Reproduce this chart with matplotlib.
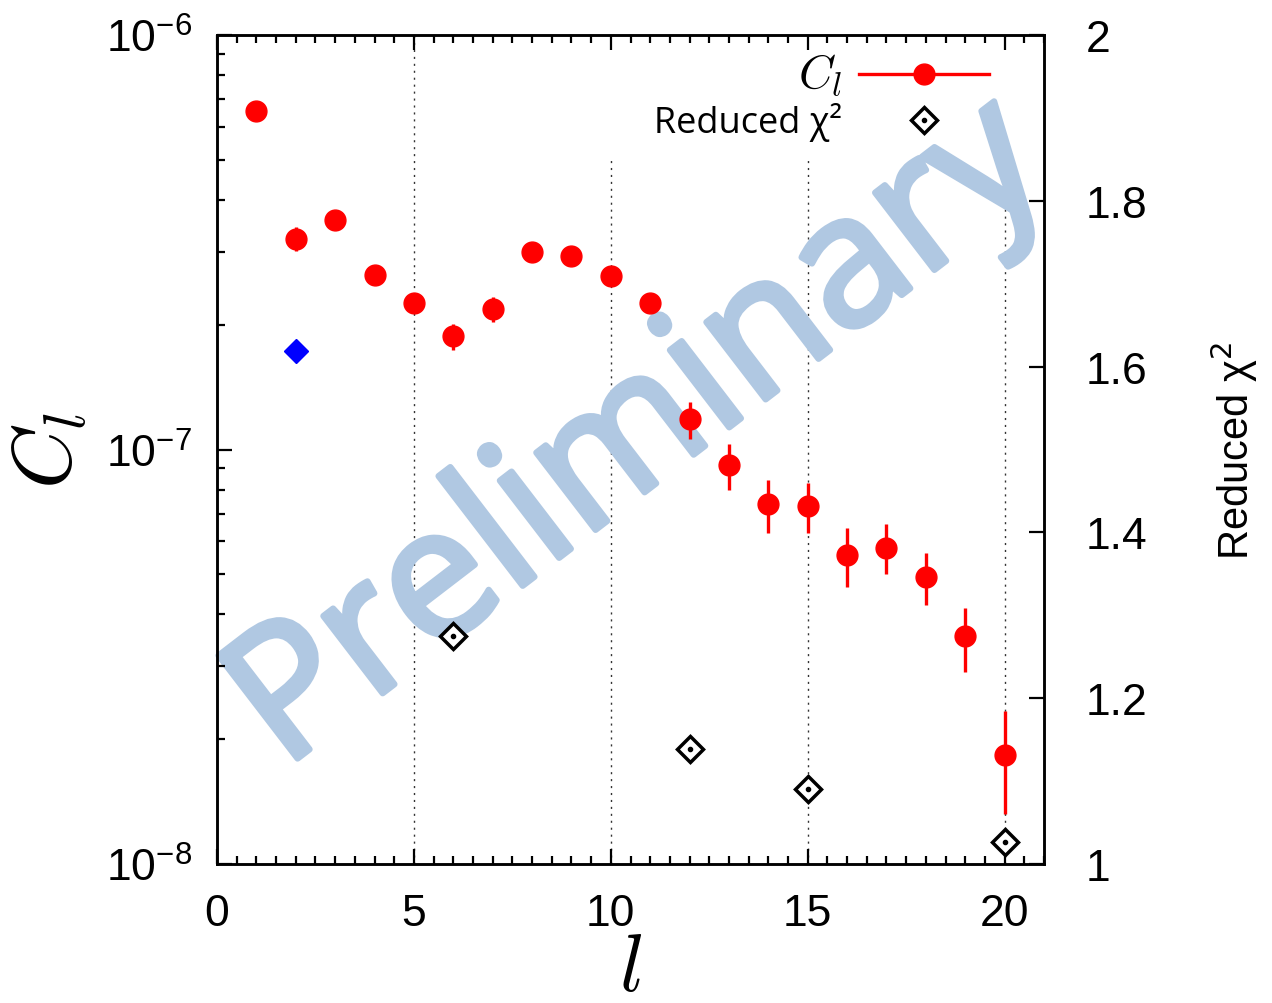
import numpy as np
import matplotlib.pyplot as plt
import matplotlib.patheffects as pe
from matplotlib.lines import Line2D
from matplotlib.ticker import MultipleLocator, LogLocator, NullFormatter, FormatStrFormatter

plt.rcParams['font.family'] = ['Liberation Sans', 'DejaVu Sans']

# C_l power spectrum with asymmetric errors
ell = [1, 2, 3, 4, 5, 6, 7, 8, 9, 10, 11, 12, 13, 14, 15, 16, 17, 18, 19, 20]
cl = [6.56e-7, 3.22e-7, 3.57e-7, 2.64e-7, 2.26e-7, 1.875e-7, 2.18e-7, 3.0e-7, 2.93e-7, 2.62e-7,
      2.26e-7, 1.186e-7, 9.18e-8, 7.37e-8, 7.31e-8, 5.57e-8, 5.80e-8, 4.92e-8, 3.54e-8, 1.83e-8]
cl_lo = [6.45e-7, 3.01e-7, 3.50e-7, 2.57e-7, 2.19e-7, 1.74e-7, 2.03e-7, 2.93e-7, 2.86e-7, 2.55e-7,
         2.19e-7, 1.06e-7, 8.0e-8, 6.29e-8, 6.29e-8, 4.66e-8, 5.0e-8, 4.22e-8, 2.91e-8, 1.32e-8]
cl_hi = [6.67e-7, 3.44e-7, 3.64e-7, 2.71e-7, 2.33e-7, 2.01e-7, 2.33e-7, 3.07e-7, 3.0e-7, 2.69e-7,
         2.33e-7, 1.304e-7, 1.031e-7, 8.44e-8, 8.29e-8, 6.46e-8, 6.6e-8, 5.63e-8, 4.15e-8, 2.34e-8]

# single alternative value at l=2
ell_alt = [2]
cl_alt = [1.73e-7]

# reduced chi^2 (right axis)
chi_ell = [6, 12, 15, 20]
chi2 = [1.275, 1.139, 1.091, 1.026]

cl = np.array(cl)
yerr = [cl - np.array(cl_lo), np.array(cl_hi) - cl]

fig = plt.figure(figsize=(12.72, 10.04), dpi=100)
ax = fig.add_axes([217 / 1272, 139 / 1004, 827 / 1272, 829 / 1004])
ax2 = ax.twinx()

ax.errorbar(ell, cl, yerr=yerr, fmt='o', color='red', ms=15, elinewidth=2.4,
            capsize=0, zorder=3)
ax.plot(ell_alt, cl_alt, ls='none', marker='D', ms=12.5, color='blue', zorder=3)

ax2.plot(chi_ell, chi2, ls='none', marker='D', ms=13.5, mfc='white', mec='black', mew=2.5)
ax2.plot(chi_ell, chi2, ls='none', marker='o', ms=3, color='black')

ax.set_yscale('log')
ax.set_xlim(0, 21)
ax.set_ylim(1e-8, 1e-6)
ax2.set_ylim(1, 2)

for x in [5, 10, 15, 20]:
    ax.axvline(x, color='#333333', lw=1.0, ls=(0, (1.5, 3.5)), zorder=0.5)

ax.xaxis.set_major_locator(MultipleLocator(5))
ax.xaxis.set_minor_locator(MultipleLocator(0.5))
ax.yaxis.set_minor_locator(LogLocator(base=10, subs=np.arange(2, 10)))
ax.yaxis.set_minor_formatter(NullFormatter())
ax2.yaxis.set_major_locator(MultipleLocator(0.2))
ax2.yaxis.set_major_formatter(FormatStrFormatter('%g'))

ax.tick_params(which='both', direction='in', top=True, right=False, width=1.6, labelsize=32)
ax.tick_params(which='major', length=11)
ax.tick_params(which='minor', length=6)
ax.tick_params(axis='x', pad=21)
ax.tick_params(axis='y', pad=18)
ax2.tick_params(direction='in', length=11, width=1.6, labelsize=32, pad=30)

for a in (ax, ax2):
    for s in a.spines.values():
        s.set_linewidth(1.8)

ax.set_xlabel('$l$', fontsize=58, math_fontfamily='cm', labelpad=-2)
ax.set_ylabel('$C_l$', fontsize=60, math_fontfamily='cm', labelpad=12)
ax2.set_ylabel('Reduced χ$^2$', fontsize=30, rotation=90, labelpad=44)

# legend (text before symbol, gnuplot style)
h1 = Line2D([], [], color='red', lw=2.4, marker='o', ms=15)
h2a = Line2D([], [], ls='none', marker='D', ms=13.5, mfc='white', mec='black', mew=2.5)
h2b = Line2D([], [], ls='none', marker='o', ms=3, color='black')
leg = ax.legend([h1, (h2a, h2b)], ['$C_l$', '     Reduced χ²'], loc='upper right',
                bbox_to_anchor=(0.977, 1.025), markerfirst=False, frameon=True,
                framealpha=1, facecolor='white', edgecolor='none', handlelength=3.6,
                handletextpad=0.45, labelspacing=0.12, borderpad=0.5,
                prop={'family': 'Open Sans', 'size': 26})
leg.get_texts()[0].set_math_fontfamily('cm')
leg.get_texts()[0].set_fontsize(34)
leg.set_zorder(0.8)

wm_color = '#B0C8E2'
ax.text(0.511, 0.516, 'Preliminary', transform=ax.transAxes, rotation=37.5,
        rotation_mode='anchor', ha='center', va='center', fontsize=131,
        color=wm_color, family='Open Sans', zorder=0.9,
        path_effects=[pe.withStroke(linewidth=4.5, foreground=wm_color)])

fig.savefig('out.png', dpi=100)
